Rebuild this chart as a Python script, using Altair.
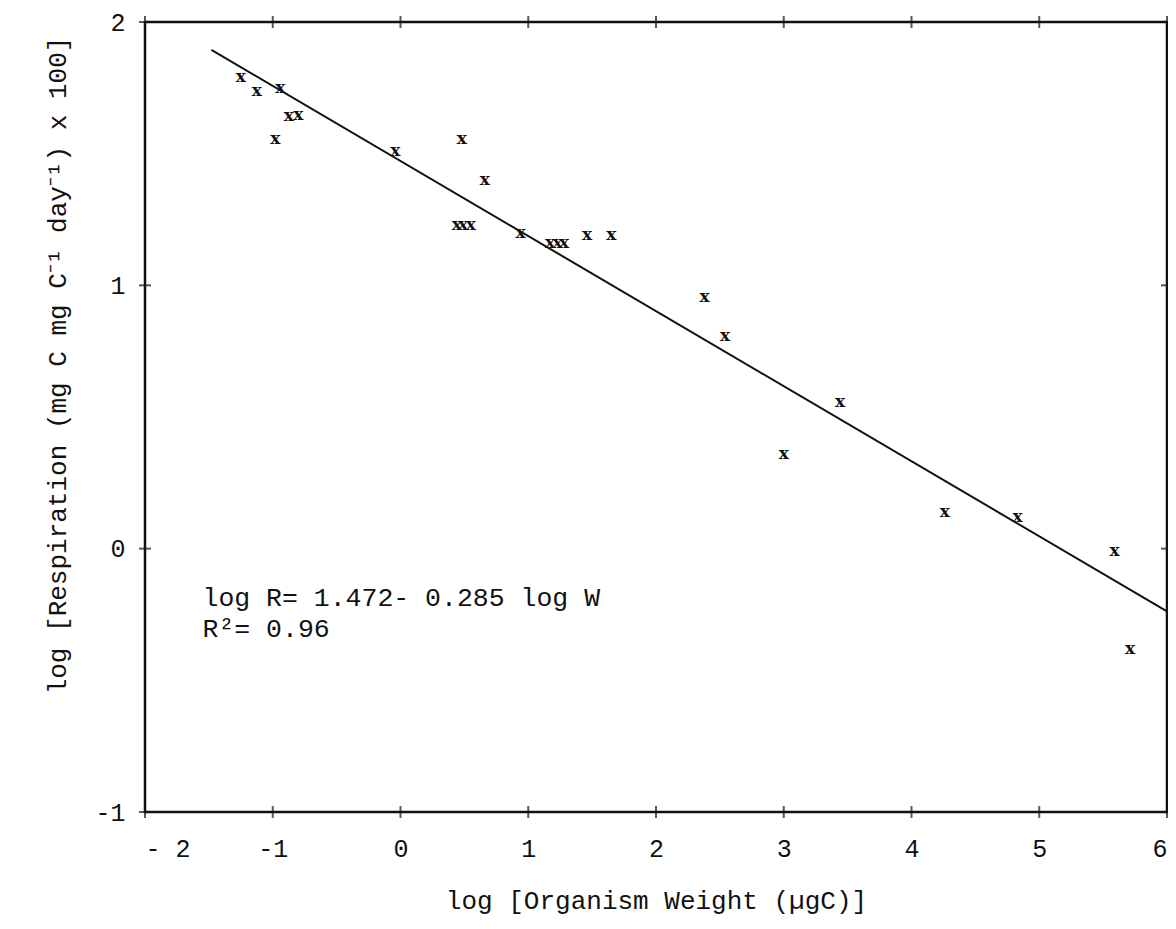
import altair as alt
import pandas as pd

# Observed points (log W, log R)
pts_x = [-1.25, -1.125, -0.94, -0.98, -0.875, -0.80, -0.04, 0.48, 0.66,
         0.44, 0.49, 0.55, 0.94, 1.17, 1.23, 1.28, 1.46, 1.65,
         2.38, 2.54, 3.44, 3.00, 4.26, 4.83, 5.59, 5.71]
pts_y = [1.791, 1.738, 1.749, 1.556, 1.643, 1.647, 1.51, 1.556, 1.40,
         1.229, 1.229, 1.229, 1.199, 1.161, 1.161, 1.161, 1.191, 1.191,
         0.956, 0.807, 0.557, 0.359, 0.139, 0.120, -0.009, -0.381]

# Regression line endpoints
line_x = [-1.48, 6.0]
line_y = [1.894, -0.238]

# Tick values
x_ticks = [-2, -1, 0, 1, 2, 3, 4, 5, 6]
y_ticks = [-1, 0, 1, 2]

# Annotation
ann_text = ["log R= 1.472- 0.285 log W", "R\u00b2= 0.96"]
ann_x = [-1.55, -1.55]
ann_y = [-0.218, -0.336]

W, H = 1022, 790
FONT = "Liberation Mono"

xs = alt.Scale(domain=[-2, 6], nice=False, zero=False)
ys = alt.Scale(domain=[-1, 2], nice=False, zero=False)

xaxis = alt.Axis(
    values=x_ticks, ticks=False, tickSize=0, domain=False, grid=False,
    labelFont=FONT, labelFontSize=25, labelColor="#111", labelPadding=24,
    labelExpr="datum.value == -2 ? '- 2' : (datum.value < 0 ? '-' + abs(datum.value) : '' + datum.value)",
    title="log [Organism Weight (\u00b5gC)]", titleFont=FONT, titleFontSize=26,
    titleFontWeight="normal", titleColor="#111", titleY=88, titleBaseline="middle",
)
yaxis = alt.Axis(
    values=y_ticks, ticks=False, tickSize=0, domain=False, grid=False,
    labelFont=FONT, labelFontSize=25, labelColor="#111", labelPadding=20,
    labelExpr="datum.value < 0 ? '-' + abs(datum.value) : '' + datum.value",
    title="log [Respiration (mg C mg C\u207b\u00b9 day\u207b\u00b9) x 100]",
    titleFont=FONT, titleFontSize=26, titleFontWeight="normal", titleColor="#111",
    titleAngle=270, titleX=-88, titleY=343, titleAlign="center", titleBaseline="middle",
)

X = alt.X("x:Q", scale=xs, axis=xaxis)
Y = alt.Y("y:Q", scale=ys, axis=yaxis)

pts = pd.DataFrame({"x": pts_x, "y": pts_y})
line = pd.DataFrame({"x": line_x, "y": line_y})
xt = pd.DataFrame({"x": x_ticks})
yt = pd.DataFrame({"y": y_ticks})
ann = pd.DataFrame({"x": ann_x, "y": ann_y, "t": ann_text})

points = alt.Chart(pts).mark_text(
    text="x", font="DejaVu Serif", fontWeight="bold", fontSize=17,
    baseline="middle", align="center", color="#111"
).encode(x=X, y=Y)

reg = alt.Chart(line).mark_line(color="#111", strokeWidth=2).encode(x=X, y=Y)

xt_bottom = alt.Chart(xt).mark_tick(orient="vertical", size=12, thickness=2, color="#111").encode(
    x=X, y=alt.value(H))
xt_top = alt.Chart(xt).mark_tick(orient="vertical", size=12, thickness=2, color="#111").encode(
    x=X, y=alt.value(0))
yt_left = alt.Chart(yt).mark_tick(orient="horizontal", size=12, thickness=2, color="#111").encode(
    y=Y, x=alt.value(0))
yt_right = alt.Chart(yt).mark_tick(orient="horizontal", size=12, thickness=2, color="#111").encode(
    y=Y, x=alt.value(W))

annot = alt.Chart(ann).mark_text(
    font=FONT, fontSize=26.5, align="left", baseline="alphabetic", color="#111"
).encode(x=X, y=Y, text="t:N")

chart = alt.layer(reg, points, xt_bottom, xt_top, yt_left, yt_right, annot).properties(
    width=W, height=H,
    autosize=alt.AutoSizeParams(type="none"),
    padding={"left": 137, "top": 14, "right": 1, "bottom": 109},
    background="white",
).configure_view(stroke="#111", strokeWidth=2.5)

chart.save("out.html", embed_options={"renderer": "svg", "actions": False})
